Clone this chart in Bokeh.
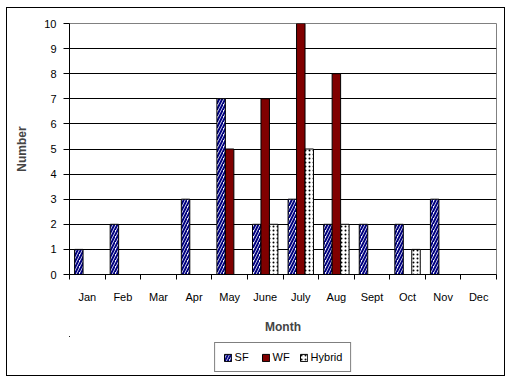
from bokeh.plotting import figure
from bokeh.models import ColumnDataSource, FixedTicker, Legend, LegendItem, LinearAxis
from bokeh.layouts import column
from bokeh.transform import dodge
from bokeh.embed import file_html
from bokeh.resources import INLINE

months = ["Jan", "Feb", "Mar", "Apr", "May", "June", "July", "Aug", "Sept", "Oct", "Nov", "Dec"]
sf = [1, 2, 0, 3, 7, 2, 3, 2, 2, 2, 3, 0]
wf = [0, 0, 0, 0, 5, 7, 10, 8, 0, 0, 0, 0]
hybrid = [0, 0, 0, 0, 0, 2, 5, 2, 0, 1, 0, 0]
series_names = ["SF", "WF", "Hybrid"]
y_ticks = list(range(0, 11))

centers = [i + 0.5 for i in range(len(months))]
bounds = list(range(len(months) + 1))
src = ColumnDataSource(dict(x=centers, month=months, sf=sf, wf=wf, hybrid=hybrid))

FONT = "Liberation Sans"
W = 0.238
SF_STYLE = dict(fill_color="white", line_color="black", line_width=1,
                hatch_pattern="/", hatch_color="#000080", hatch_scale=6, hatch_weight=2)
WF_STYLE = dict(fill_color="#800000", line_color="black", line_width=1)
HY_STYLE = dict(fill_color="white", line_color="black", line_width=1,
                hatch_pattern=".", hatch_color="black", hatch_scale=4, hatch_weight=1)
STYLES = [SF_STYLE, WF_STYLE, HY_STYLE]
FIELDS = ["sf", "wf", "hybrid"]
OFFSETS = [-W, 0, W]

p = figure(frame_width=427, frame_height=251, output_backend="svg", toolbar_location=None,
           x_range=(0, 12), y_range=(0, 10),
           min_border_left=62, min_border_right=8, min_border_top=15, min_border_bottom=62,
           x_axis_type=None)

for f, off, st in zip(FIELDS, OFFSETS, STYLES):
    p.vbar(x=dodge("x", off, range=p.x_range), top=f, width=W, source=src, **st)

# x axis: labels at category centres, tick marks between categories (minor ticks)
xa = LinearAxis(ticker=FixedTicker(ticks=centers, minor_ticks=bounds),
                major_label_overrides={c: m for c, m in zip(centers, months)})
xa.major_tick_line_color = None
xa.major_tick_out = 5
xa.major_tick_in = 0
xa.minor_tick_out = 5
xa.minor_tick_in = 0
xa.minor_tick_line_color = "black"
xa.axis_line_color = "black"
xa.major_label_standoff = 11
xa.major_label_text_font = FONT
xa.major_label_text_font_size = "11px"
xa.major_label_text_color = "black"
xa.axis_label = "Month"
xa.axis_label_text_font = FONT
xa.axis_label_text_font_size = "12px"
xa.axis_label_text_font_style = "bold"
xa.axis_label_standoff = 14
p.add_layout(xa, "below")

ya = p.yaxis[0]
ya.ticker = FixedTicker(ticks=y_ticks, minor_ticks=[])
ya.major_tick_out = 6
ya.major_tick_in = 0
ya.axis_line_color = "black"
ya.major_tick_line_color = "black"
ya.major_label_standoff = 7
ya.major_label_text_font = FONT
ya.major_label_text_font_size = "11px"
ya.major_label_text_color = "black"
ya.axis_label = "Number"
ya.axis_label_text_font = FONT
ya.axis_label_text_font_size = "12px"
ya.axis_label_text_font_style = "bold"
ya.axis_label_standoff = 12

p.xgrid.grid_line_color = None
p.ygrid.grid_line_color = "black"
p.ygrid.grid_line_width = 1
p.outline_line_color = "#808080"
p.outline_line_width = 1

# legend strip below the chart (same series, placed outside its visible range)
lg = figure(frame_width=427, frame_height=39, output_backend="svg", toolbar_location=None,
            x_range=(100, 101), y_range=(-20, -19), x_axis_type=None, y_axis_type=None,
            min_border_left=62, min_border_right=8, min_border_top=0, min_border_bottom=0)
lg.outline_line_color = None
lg.xgrid.grid_line_color = None
lg.ygrid.grid_line_color = None
legend_renderers = [lg.vbar(x=dodge("x", off, range=lg.x_range), top=f, width=W, source=src, **st)
                    for f, off, st in zip(FIELDS, OFFSETS, STYLES)]

legend = Legend(items=[LegendItem(label=n, renderers=[r])
                       for n, r in zip(series_names, legend_renderers)],
                orientation="horizontal", location="top_center")
legend.border_line_color = "black"
legend.border_line_width = 1
legend.label_text_font = FONT
legend.label_text_font_size = "11px"
legend.label_text_color = "black"
legend.glyph_width = 9
legend.glyph_height = 9
legend.label_standoff = 3
legend.spacing = 6
legend.padding = 8
legend.margin = 6
legend.label_height = 12
lg.add_layout(legend, "center")

layout = column(p, lg, spacing=0)
layout.styles = {"border": "1px solid black", "margin-left": "6px", "margin-top": "7px"}

open("out.html", "w").write(file_html(layout, INLINE))
